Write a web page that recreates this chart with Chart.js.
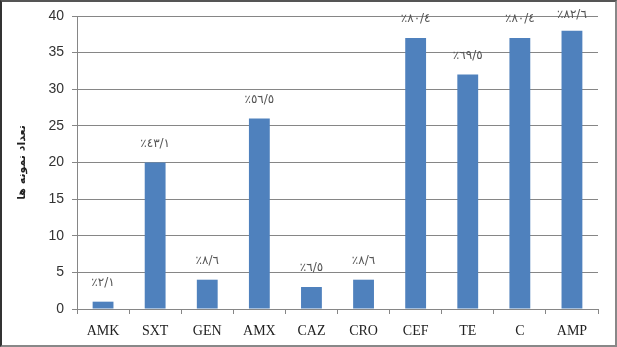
<!DOCTYPE html>
<html>
<head>
<meta charset="utf-8">
<script src="https://cdn.jsdelivr.net/npm/chart.js@4/dist/chart.umd.min.js"></script>
<style>
    html, body { margin: 0; padding: 0; background: #fff; }
    #frame {
        width: 617px;
        height: 347px;
        box-sizing: border-box;
        border-top: 2px solid #555;
        border-left: 2px solid #333;
        border-right: 2px solid #888;
        border-bottom: 2px solid #888;
        position: relative;
    }
</style>
</head>
<body>
<div id="frame"><canvas id="antibioticChartElem"></canvas></div>
<script>
// Data
const antibiotics = ['AMK', 'SXT', 'GEN', 'AMX', 'CAZ', 'CRO', 'CEF', 'TE', 'C', 'AMP'];
const sampleCounts = [1, 20, 4, 26, 3, 4, 37, 32, 37, 38];
const percentLabels = ['٪٢/١', '٪٤٣/١', '٪٨/٦', '٪٥٦/٥', '٪٦/٥', '٪٨/٦', '٪٨٠/٤', '٪٦٩/٥', '٪٨٠/٤', '٪٨٢/٦'];
const yTicks = [0, 5, 10, 15, 20, 25, 30, 35, 40];



// Percent labels above each bar (kept inside the top of the frame)
const barLabelsPlugin = {
    id: 'barLabels',
    afterDatasetsDraw(chart) {
        const ctx = chart.ctx;
        const meta = chart.getDatasetMeta(0);
        const minY = chart.chartArea.top - 1;
        ctx.save();
        ctx.font = '12px "DejaVu Sans"';
        ctx.fillStyle = '#555';
        ctx.textAlign = 'center';
        ctx.textBaseline = 'middle';
        meta.data.forEach((bar, i) => {
            ctx.fillText(percentLabels[i], bar.x, Math.max(bar.y - 19, minY));
        });
        ctx.restore();
    }
};

const antibioticChartElem = document.getElementById('antibioticChartElem');
const antibioticChart = new Chart(antibioticChartElem, {
    type: 'bar',
    data: {
        labels: antibiotics,
        datasets: [{
            data: sampleCounts,
            backgroundColor: '#4f81bd',
            borderWidth: 0,
            categoryPercentage: 1,
            barPercentage: 0.4
        }]
    },
    options: {
        responsive: true,
        maintainAspectRatio: false,
        animation: false,
        layout: {
            padding: { top: 14, right: 17, left: 0, bottom: 0 }
        },
        scales: {
            x: {
                grid: {
                    offset: true,
                    drawOnChartArea: false,
                    drawTicks: true,
                    tickLength: 5,
                    color: '#868686'
                },
                border: { color: '#868686' },
                ticks: {
                    color: '#222',
                    padding: 9,
                    font: { family: '"Liberation Serif"', size: 14 }
                },
                afterFit: (scale) => { scale.height = 36; }
            },
            y: {
                min: 0,
                max: 40,
                afterBuildTicks: (scale) => {
                    scale.ticks = yTicks.map((v) => ({ value: v }));
                },
                grid: {
                    color: '#868686',
                    tickLength: 5
                },
                border: { color: '#868686' },
                ticks: {
                    color: '#333',
                    padding: 8,
                    font: { family: '"Liberation Sans"', size: 14 }
                },
                title: {
                    display: true,
                    text: 'تعداد نمونه ها',
                    color: '#222',
                    padding: { top: 14, bottom: 0 },
                    font: { family: '"DejaVu Sans"', size: 11, weight: 'bold' }
                },
                afterFit: (scale) => {
                    scale.width = 75;
                    scale.paddingTop = 0;
                    scale.paddingBottom = 0;
                }
            }
        },
        plugins: {
            legend: { display: false },
            tooltip: { enabled: false }
        }
    },
    plugins: [barLabelsPlugin]
});
</script>
</body>
</html>
